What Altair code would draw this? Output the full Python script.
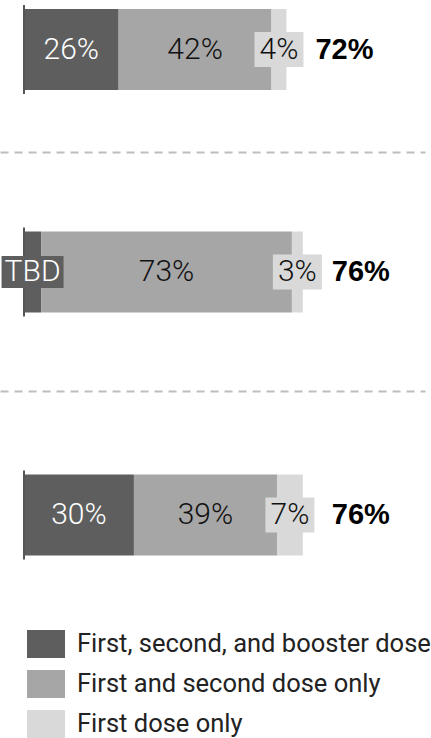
import altair as alt
import pandas as pd

rows = ["A", "B", "C"]
categories = ["First, second, and booster dose", "First and second dose only", "First dose only"]
colors = ["#5e5e5e", "#a6a6a6", "#d9d9d9"]
booster = [26.0, 4.7, 30.2]
second_only = [42.0, 68.9, 39.3]
first_only = [4.1, 3.0, 7.1]
booster_labels = ["26%", "TBD", "30%"]
second_labels = ["42%", "73%", "39%"]
first_labels = ["4%", "3%", "7%"]
total_labels = ["72%", "76%", "76%"]

records = []
for i, r in enumerate(rows):
    start = 0.0
    for cat, vals, labs in zip(categories, [booster, second_only, first_only],
                               [booster_labels, second_labels, first_labels]):
        end = start + vals[i]
        records.append(dict(row=r, category=cat, x0=start, x1=end, mid=(start + end) / 2,
                            label=labs[i], total=total_labels[i]))
        start = end
df = pd.DataFrame(records)

PX = 3.64
W = 425
X_MIN = -24 / PX
X_MAX = X_MIN + W / PX
BAR_H = 81


def box_path(w, h):
    r = h / w
    return f"M-1,-{r:.4f}H1V{r:.4f}H-1Z"


legend = alt.Legend(orient="none", legendX=27, legendY=625, title=None,
                    symbolType=box_path(38, 28), symbolSize=38 * 38, symbolStrokeWidth=0,
                    symbolOpacity=1, labelFont="Roboto", labelFontSize=25.5, labelColor="#222",
                    labelOffset=12, rowPadding=7, labelLimit=500)


def panel(i, height, center, dashed):
    d = df[df.row == rows[i]]
    po = (height / BAR_H - 1) / 2
    al = (center - BAR_H / 2) / (height - BAR_H)
    yenc = alt.Y("row:N", axis=None, scale=alt.Scale(paddingInner=0, paddingOuter=po, align=al))
    if dashed:
        axis = alt.Axis(labels=False, ticks=False, grid=False, title=None, domainDash=[8, 6],
                        domainColor="#bdbdbd", domainWidth=2)
    else:
        axis = None
    xs = alt.Scale(domain=[X_MIN, X_MAX], nice=False, zero=False)
    base = alt.Chart(d)
    bars = base.mark_bar().encode(
        x=alt.X("x0:Q", scale=xs, axis=axis),
        x2="x1:Q",
        y=yenc,
        color=alt.Color("category:N", scale=alt.Scale(domain=categories, range=colors),
                        legend=legend),
    )
    axis_line = base.transform_filter(alt.datum.category == categories[0]).mark_tick(
        size=89, thickness=2, color="#555555", opacity=1
    ).encode(x=alt.X("zero:Q", scale=xs, axis=axis), y=yenc).transform_calculate(zero="0")
    light_box = base.transform_filter(alt.datum.category == categories[2]).mark_point(
        shape=box_path(49, 35), size=49 * 49, filled=True, color=colors[2], opacity=1, strokeWidth=0
    ).encode(x=alt.X("mid:Q", scale=xs, axis=axis), y=yenc)
    tbd_box = base.transform_filter(alt.datum.label == "TBD").mark_point(
        shape=box_path(62, 32), size=62 * 62, filled=True, color=colors[0], opacity=1, strokeWidth=0
    ).encode(x=alt.X("mid:Q", scale=xs, axis=axis), y=yenc)
    seg_text = base.mark_text(font="Roboto", fontWeight=300, fontSize=30, baseline="middle",
                              align="center").encode(
        x=alt.X("mid:Q", scale=xs, axis=axis), y=yenc, text="label:N",
        color=alt.condition(alt.datum.category == categories[0], alt.value("white"), alt.value("#111111")),
    )
    total_text = base.transform_filter(alt.datum.category == categories[2]).mark_text(
        font="Liberation Sans", fontWeight="bold", fontSize=29, baseline="middle", align="left",
        dx=29, color="black"
    ).encode(x=alt.X("x1:Q", scale=xs, axis=axis), y=yenc, text="total:N")
    return alt.layer(bars, axis_line, light_box, tbd_box, seg_text, total_text).properties(
        width=W, height=height)


p1 = panel(0, 152, 49.5, True)
p2 = panel(1, 239, 120, True)
p3 = panel(2, 170, 124, False)

chart = alt.vconcat(p1, p2, p3, spacing=0).properties(padding=0).configure_view(stroke=None)
chart.save("out.html", embed_options={"renderer": "svg", "actions": False})
